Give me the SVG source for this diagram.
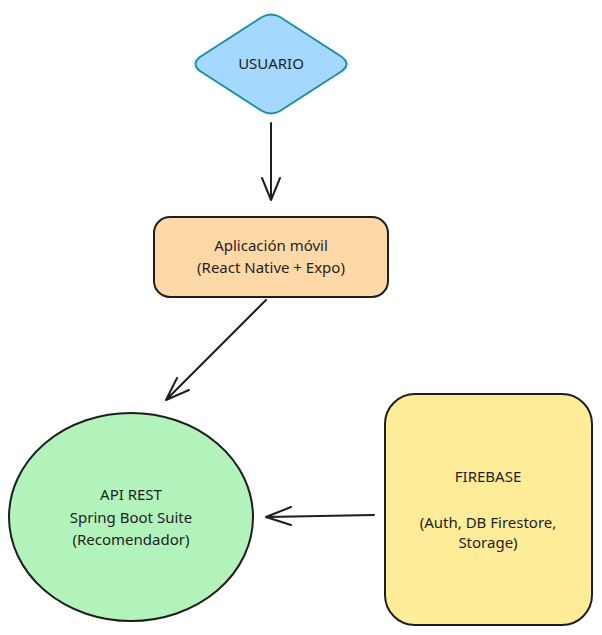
<svg xmlns="http://www.w3.org/2000/svg" width="602" height="635" viewBox="0 0 602 635">
<defs>
<style>
text{font-family:"Noto Sans","Open Sans",sans-serif;font-size:15px;fill:#1e1e1e;text-anchor:middle}
.shape{stroke:#1e1e1e;stroke-width:2}
.conn{stroke:#1e1e1e;stroke-width:2;fill:none;stroke-linecap:round;stroke-linejoin:round}
</style>
</defs>
<rect width="602" height="635" fill="#ffffff"/>
<g id="usuario">
<path d="M262 17 Q271 12 280 17 L342 57 Q351 64 342 71 L280 111 Q271 116 262 111 L200 71 Q191 64 200 57 Z" fill="#a5d8ff" stroke="#1c8fa0" stroke-width="2"/>
<text x="271" y="69">USUARIO</text>
</g>
<g id="app">
<rect class="shape" x="154" y="217" width="234" height="80" rx="16" fill="#ffd8a8"/>
<text x="271" y="251">Aplicación móvil</text>
<text x="271" y="273">(React Native + Expo)</text>
</g>
<g id="api">
<ellipse class="shape" cx="131" cy="517" rx="122" ry="104" fill="#b2f2bb"/>
<text x="131" y="500">API REST</text>
<text x="131" y="523">Spring Boot Suite</text>
<text x="131" y="545">(Recomendador)</text>
</g>
<g id="firebase">
<rect class="shape" x="385" y="394" width="207" height="231" rx="30" fill="#ffec99"/>
<text x="488" y="482">FIREBASE</text>
<text x="488" y="528">(Auth, DB Firestore,</text>
<text x="488" y="548">Storage)</text>
</g>
<g id="connectors">
<path class="conn" d="M271 123 L271 200 M262 178 L271 200 L280 178"/>
<path class="conn" d="M266 300 L166 400 M177 378 L166 400 L189 390"/>
<path class="conn" d="M374 515 L266 517 M291 507 L266 517 L291 525"/>
</g>
</svg>
